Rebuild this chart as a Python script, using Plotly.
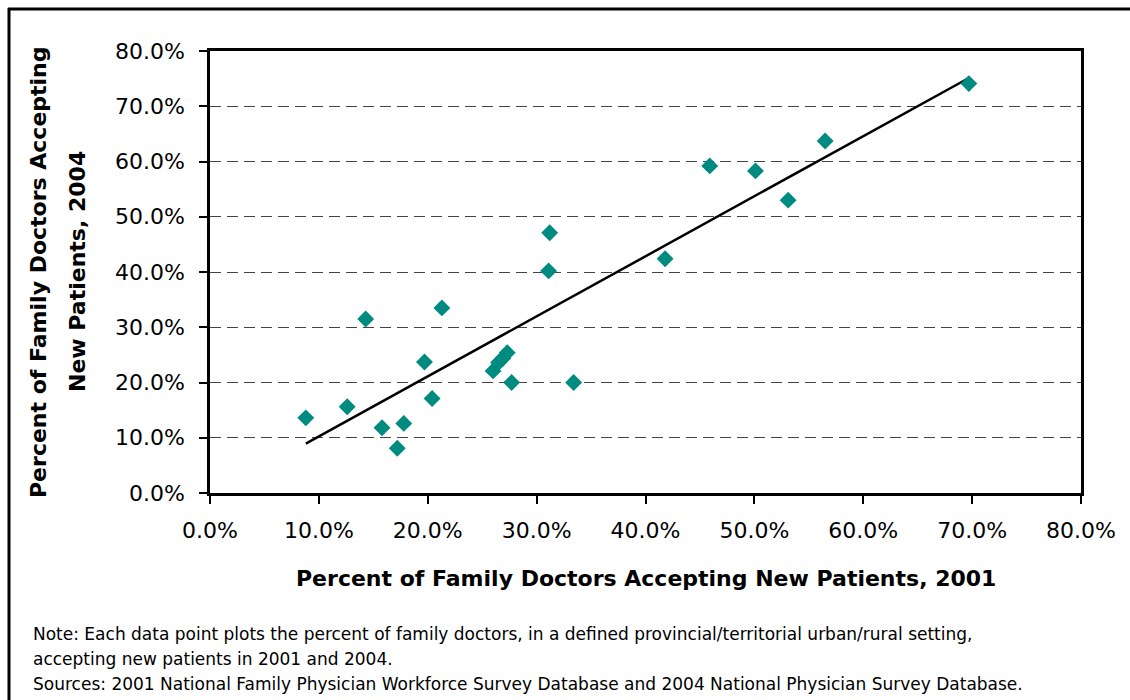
import numpy as np
import plotly.graph_objects as go

# Data: percent of family doctors accepting new patients (2001 vs 2004)
pct_2001 = [8.8, 12.6, 14.3, 15.8, 17.2, 17.8, 19.7, 20.4, 21.3, 26.0, 26.5, 26.9, 27.3,
            27.7, 33.4, 31.1, 31.2, 41.8, 45.9, 50.1, 53.1, 56.5, 69.7]
pct_2004 = [13.6, 15.6, 31.5, 11.8, 8.1, 12.6, 23.7, 17.1, 33.5, 22.1, 23.6, 24.4, 25.4,
            20.0, 20.0, 40.2, 47.1, 42.4, 59.2, 58.3, 53.0, 63.7, 74.1]

x_ticks = [0, 10, 20, 30, 40, 50, 60, 70, 80]
y_ticks = [0, 10, 20, 30, 40, 50, 60, 70, 80]
x_title = "Percent of Family Doctors Accepting New Patients, 2001"
y_title_lines = ["Percent of Family Doctors Accepting", "New Patients, 2004"]
note_lines = [
    "Note: Each data point plots the percent of family doctors, in a defined provincial/territorial urban/rural setting,",
    "accepting new patients in 2001 and 2004.",
    "Sources: 2001 National Family Physician Workforce Survey Database and 2004 National Physician Survey Database.",
]

W, H = 1130, 700
# plot area in page pixels: x 210..1081, y 51..493
L, T = 210, 51
R = W - 1081
B = H - 493
pw, ph = W - L - R, H - T - B

def px(xp):
    return (xp - L) / pw

def py(yp):
    return (H - B - yp) / ph

slope, intercept = np.polyfit(pct_2001, pct_2004, 1)
xs = [min(pct_2001), max(pct_2001)]
ys = [slope * v + intercept for v in xs]

fig = go.Figure()
fig.add_trace(go.Scatter(
    x=xs, y=ys, mode="lines",
    line=dict(color="black", width=2.5), hoverinfo="skip", showlegend=False))
fig.add_trace(go.Scatter(
    x=pct_2001, y=pct_2004, mode="markers",
    marker=dict(symbol="diamond", size=13, color="#008B80"),
    showlegend=False))

tickfont = dict(family="DejaVu Sans", size=22, color="black")
fig.update_xaxes(
    range=[0, 80], tickvals=x_ticks, ticktext=[f"{v:.1f}%" for v in x_ticks],
    showgrid=False, zeroline=False, showline=True, linecolor="black", linewidth=2.5,
    mirror=True, ticks="outside", ticklen=8, tickwidth=2, tickcolor="black",
    tickfont=tickfont, ticklabelstandoff=8)
fig.update_yaxes(
    range=[0, 80], tickvals=y_ticks, ticktext=[f"{v:.1f}%" for v in y_ticks],
    showgrid=True, gridcolor="#444444", griddash="11px,6px", gridwidth=1,
    zeroline=False, showline=True, linecolor="black", linewidth=2.5,
    mirror=True, ticks="outside", ticklen=8, tickwidth=2, tickcolor="black",
    tickfont=tickfont, ticklabelstandoff=10)

title_font = dict(family="DejaVu Sans", size=22, color="black", weight="bold")
annotations = [
    dict(text=x_title, x=0.5, y=py(578), xref="paper", yref="paper",
         showarrow=False, xanchor="center", yanchor="middle", font=title_font),
]
for xp, line in zip([38, 77], y_title_lines):
    annotations.append(dict(
        text=line, x=px(xp), y=0.5, xref="paper", yref="paper", textangle=-90,
        showarrow=False, xanchor="center", yanchor="middle", font=title_font))
for i, line in enumerate(note_lines):
    annotations.append(dict(
        text=line, x=px(31), y=py(634 + 25 * i), xref="paper", yref="paper",
        showarrow=False, xanchor="left", yanchor="middle",
        font=dict(family="DejaVu Sans", size=17, color="black")))

shapes = [
    dict(type="line", xref="paper", yref="paper", x0=px(9), x1=px(9), y0=py(8), y1=py(720),
         line=dict(color="black", width=3)),
    dict(type="line", xref="paper", yref="paper", x0=px(8), x1=px(1150), y0=py(9), y1=py(9),
         line=dict(color="black", width=3)),
]

fig.update_layout(
    width=W, height=H, margin=dict(l=L, r=R, t=T, b=B),
    paper_bgcolor="white", plot_bgcolor="white",
    annotations=annotations, shapes=shapes, showlegend=False)

fig.write_html(
    "out.html",
    config={"displayModeBar": False},
    post_script="document.body.style.margin='0';document.body.style.overflow='hidden';")
